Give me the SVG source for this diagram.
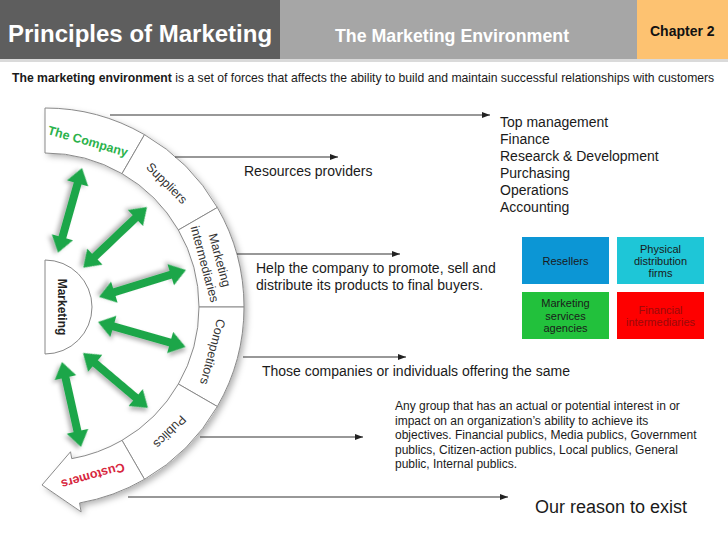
<svg xmlns="http://www.w3.org/2000/svg" width="728" height="546" viewBox="0 0 728 546">
<style>
text{font-family:"Liberation Sans",Arial,sans-serif;}
.hdr{font-weight:bold;}
.body{font-size:14px;fill:#1a1a1a;}
.small{font-size:12px;fill:#1a1a1a;}
.seg{fill:#fff;stroke:#8a8a8a;stroke-width:1;}
.segl{font-size:12.5px;fill:#333;text-anchor:middle;}
.box{font-size:11px;fill:#1a1a1a;text-anchor:middle;}
.conn{stroke:#333;stroke-width:1.2;fill:none;marker-end:url(#ah);}
.garrow{fill:#1fa64a;filter:url(#gsh);}
</style>
<defs>
<marker id="ah" viewBox="0 0 8 6" refX="8" refY="3" markerWidth="8" markerHeight="6" markerUnits="userSpaceOnUse" orient="auto">
<path d="M0,0 L8,3 L0,6 Z" fill="#222"/>
</marker>
<filter id="bsh" x="-20%" y="-20%" width="140%" height="140%">
<feDropShadow dx="3" dy="3" stdDeviation="3" flood-color="#000" flood-opacity="0.3"/>
</filter>
<filter id="gsh" x="-30%" y="-30%" width="160%" height="160%">
<feDropShadow dx="2" dy="3" stdDeviation="2" flood-color="#000" flood-opacity="0.3"/>
</filter>
</defs>
<rect width="728" height="546" fill="#fff"/>
<g id="header">
<rect x="0" y="0" width="280" height="59" fill="#5e5e5e"/>
<rect x="280" y="0" width="357" height="59" fill="#a6a6a6"/>
<rect x="637" y="0" width="91" height="59" fill="#fdc271"/>
<rect x="0" y="59" width="728" height="3" fill="#dadada"/>
<text class="hdr" x="8" y="42" font-size="24" fill="#fff">Principles of Marketing</text>
<text class="hdr" x="452" y="42" font-size="17.8" fill="#fff" text-anchor="middle">The Marketing Environment</text>
<text class="hdr" x="650" y="36" font-size="14" fill="#111">Chapter 2</text>
</g>
<text id="intro" x="12" y="82" font-size="12.2" fill="#1a1a1a"><tspan font-weight="bold">The marketing environment</tspan> is a set of forces that affects the ability to build and maintain successful relationships with customers</text>

<path id="band-shadow" d="M45,108 A199,199 0 0 1 79.56,502.98 L81.12,511.84 L42,485 L70.53,451.77 L71.74,458.66 A154,154 0 0 0 45,153 Z" fill="#fff" filter="url(#bsh)"/>

<g id="company">
<path class="seg" d="M45,108 A199,199 0 0 1 144.5,134.66 L122,173.63 A154,154 0 0 0 45,153 Z"/>
<text transform="translate(88,141) rotate(16)" y="4.5" font-size="12.5" font-weight="bold" fill="#2bb24c" text-anchor="middle">The Company</text>
</g>
<g id="suppliers">
<path class="seg" d="M144.5,134.66 A199,199 0 0 1 217.34,207.5 L178.37,230 A154,154 0 0 0 122,173.63 Z"/>
<text class="segl" transform="translate(167,183) rotate(45)" y="4.5">Suppliers</text>
</g>
<g id="intermediaries">
<path class="seg" d="M217.34,207.5 A199,199 0 0 1 244,307 L199,307 A154,154 0 0 0 178.37,230 Z"/>
<text class="segl" transform="translate(220,260) rotate(75)" y="4.5">Marketing</text>
<text class="segl" transform="translate(205,264) rotate(75)" y="4.5">intermediaries</text>
</g>
<g id="competitors">
<path class="seg" d="M244,307 A199,199 0 0 1 217.34,406.5 L178.37,384 A154,154 0 0 0 199,307 Z"/>
<text class="segl" transform="translate(213,352) rotate(105)" y="4.5">Competitors</text>
</g>
<g id="publics">
<path class="seg" d="M217.34,406.5 A199,199 0 0 1 144.5,479.34 L122,440.37 A154,154 0 0 0 178.37,384 Z"/>
<text class="segl" transform="translate(170,432) rotate(135)" y="4.5">Publics</text>
</g>
<g id="customers">
<path class="seg" d="M144.5,479.34 A199,199 0 0 1 79.56,502.98 L81.12,511.84 L42,485 L70.53,451.77 L71.74,458.66 A154,154 0 0 0 122,440.37 Z"/>
<text transform="translate(93,476) rotate(164)" y="4.5" font-size="12.5" font-weight="bold" fill="#d7263d" text-anchor="middle">Customers</text>
</g>
<g id="marketing">
<path d="M45,260 A47,47 0 0 1 45,354 Z" fill="#fff" stroke="#888" stroke-width="1"/>
<text transform="translate(62,307) rotate(90)" y="4.3" font-size="12" font-weight="bold" fill="#222" text-anchor="middle">Marketing</text>
</g>

<g id="connectors">
<path class="garrow" transform="translate(82,168) rotate(105.8)" d="M0,0 L16,-11 L16,-4 L72,-4 L72,-11 L88,0 L72,11 L72,4 L16,4 L16,11 Z"/>
<path class="garrow" transform="translate(147,207) rotate(136.4)" d="M0,0 L16,-11 L16,-4 L72,-4 L72,-11 L88,0 L72,11 L72,4 L16,4 L16,11 Z"/>
<path class="garrow" transform="translate(186,270) rotate(162.8)" d="M0,0 L16,-11 L16,-4 L75,-4 L75,-11 L91,0 L75,11 L75,4 L16,4 L16,11 Z"/>
<path class="garrow" transform="translate(98,322) rotate(15.9)" d="M0,0 L16,-11 L16,-4 L75,-4 L75,-11 L91,0 L75,11 L75,4 L16,4 L16,11 Z"/>
<path class="garrow" transform="translate(83,353) rotate(40.2)" d="M0,0 L16,-11 L16,-4 L69,-4 L69,-11 L85,0 L69,11 L69,4 L16,4 L16,11 Z"/>
<path class="garrow" transform="translate(62,362) rotate(77.4)" d="M0,0 L16,-11 L16,-4 L71,-4 L71,-11 L87,0 L71,11 L71,4 L16,4 L16,11 Z"/>
<line class="conn" x1="110" y1="115" x2="490" y2="115"/>
<line class="conn" x1="175" y1="157" x2="338" y2="157"/>
<line class="conn" x1="237" y1="254" x2="400" y2="254"/>
<line class="conn" x1="243" y1="357" x2="406" y2="357"/>
<line class="conn" x1="200" y1="437" x2="363" y2="437"/>
<line class="conn" x1="128" y1="497" x2="508" y2="497"/>
</g>

<g id="company-depts">
<text class="body" x="500" y="127">Top management</text>
<text class="body" x="500" y="144">Finance</text>
<text class="body" x="500" y="161">Researck &amp; Development</text>
<text class="body" x="500" y="178">Purchasing</text>
<text class="body" x="500" y="195">Operations</text>
<text class="body" x="500" y="212">Accounting</text>
</g>
<g id="suppliers-desc">
<text class="body" x="244" y="176">Resources providers</text>
</g>
<g id="intermediaries-desc">
<text class="body" x="256" y="273">Help the company to promote, sell and</text>
<text class="body" x="256" y="290">distribute its products to final buyers.</text>
</g>
<g id="resellers">
<rect x="522" y="237" width="87" height="47" fill="#0c96d5"/>
<text class="box" x="565.5" y="265">Resellers</text>
</g>
<g id="physical">
<rect x="617" y="237" width="87" height="47" fill="#1ec6d7"/>
<text class="box" x="660.5" y="252.5">Physical</text>
<text class="box" x="660.5" y="264.5">distribution</text>
<text class="box" x="660.5" y="276.5">firms</text>
</g>
<g id="services">
<rect x="522" y="292" width="87" height="47" fill="#22c13c"/>
<text class="box" x="565.5" y="307">Marketing</text>
<text class="box" x="565.5" y="319.5">services</text>
<text class="box" x="565.5" y="332">agencies</text>
</g>
<g id="financial">
<rect x="617" y="292" width="87" height="47" fill="#fe0000"/>
<text class="box" x="660.5" y="314" style="fill:#9a0a0a">Financial</text>
<text class="box" x="660.5" y="326" style="fill:#9a0a0a">intermediaries</text>
</g>
<g id="competitors-desc">
<text class="body" x="262" y="376">Those companies or individuals offering the same</text>
</g>
<g id="publics-desc">
<text class="small" x="395" y="410">Any group that has an actual or potential interest in or</text>
<text class="small" x="395" y="424.5">impact on an organization’s ability to achieve its</text>
<text class="small" x="395" y="439">objectives. Financial publics, Media publics, Government</text>
<text class="small" x="395" y="453.5">publics, Citizen-action publics, Local publics, General</text>
<text class="small" x="395" y="468">public, Internal publics.</text>
</g>
<g id="customers-desc">
<text x="535" y="513" font-size="18" fill="#1a1a1a">Our reason to exist</text>
</g>
</svg>
